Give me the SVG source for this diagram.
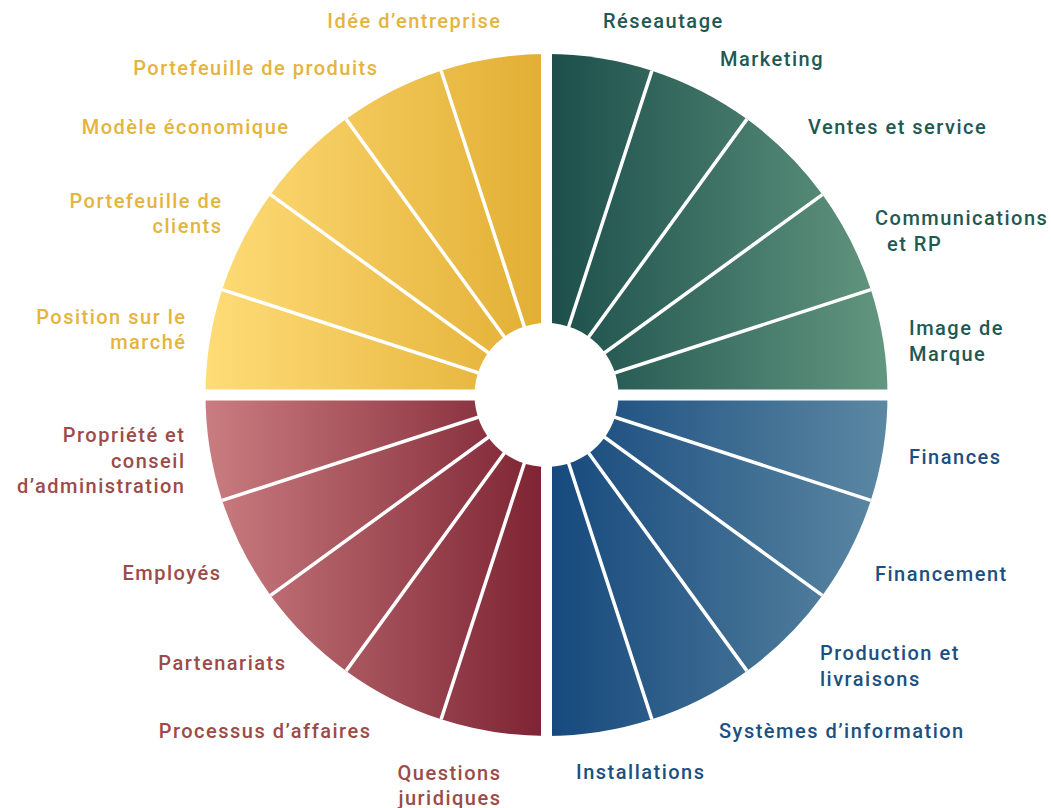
<svg xmlns="http://www.w3.org/2000/svg" width="1051" height="808" viewBox="0 0 1051 808">
<defs>
<linearGradient id="gY" gradientUnits="userSpaceOnUse" x1="205.5" y1="0" x2="541" y2="0"><stop offset="0" stop-color="#FFDC78"/><stop offset="1" stop-color="#E2AF34"/></linearGradient>
<linearGradient id="gG" gradientUnits="userSpaceOnUse" x1="552" y1="0" x2="887.5" y2="0"><stop offset="0" stop-color="#1C4F4B"/><stop offset="1" stop-color="#639780"/></linearGradient>
<linearGradient id="gB" gradientUnits="userSpaceOnUse" x1="552" y1="0" x2="887.5" y2="0"><stop offset="0" stop-color="#16497D"/><stop offset="1" stop-color="#5C88A3"/></linearGradient>
<linearGradient id="gR" gradientUnits="userSpaceOnUse" x1="205.5" y1="0" x2="541" y2="0"><stop offset="0" stop-color="#CA7D80"/><stop offset="1" stop-color="#7E2434"/></linearGradient>
<style>
text{font-family:Roboto,"Liberation Sans",sans-serif;font-size:20px;font-weight:500;letter-spacing:1.5px}
.y{fill:#E4B43E;text-anchor:end}
.r{fill:#9B4B49;text-anchor:end}
.g{fill:#1F5953}
.b{fill:#1D4F80}
.sep{stroke:#fff;stroke-width:3.5}
</style>
</defs>
<g id="quadrant-green" fill="url(#gG)">
<path id="w-reseautage" d="M546.5,395L546.5,54A341,341 0 0 1 651.88,70.69Z"/>
<path id="w-marketing" d="M546.5,395L651.88,70.69A341,341 0 0 1 746.94,119.12Z"/>
<path id="w-ventes" d="M546.5,395L746.94,119.12A341,341 0 0 1 822.38,194.56Z"/>
<path id="w-communications" d="M546.5,395L822.38,194.56A341,341 0 0 1 870.81,289.62Z"/>
<path id="w-image" d="M546.5,395L870.81,289.62A341,341 0 0 1 887.5,395Z"/>
</g>
<g id="quadrant-blue" fill="url(#gB)">
<path id="w-finances" d="M546.5,395L887.5,395A341,341 0 0 1 870.81,500.38Z"/>
<path id="w-financement" d="M546.5,395L870.81,500.38A341,341 0 0 1 822.38,595.44Z"/>
<path id="w-production" d="M546.5,395L822.38,595.44A341,341 0 0 1 746.94,670.88Z"/>
<path id="w-systemes" d="M546.5,395L746.94,670.88A341,341 0 0 1 651.88,719.31Z"/>
<path id="w-installations" d="M546.5,395L651.88,719.31A341,341 0 0 1 546.5,736Z"/>
</g>
<g id="quadrant-red" fill="url(#gR)">
<path id="w-questions" d="M546.5,395L546.5,736A341,341 0 0 1 441.12,719.31Z"/>
<path id="w-processus" d="M546.5,395L441.12,719.31A341,341 0 0 1 346.06,670.88Z"/>
<path id="w-partenariats" d="M546.5,395L346.06,670.88A341,341 0 0 1 270.62,595.44Z"/>
<path id="w-employes" d="M546.5,395L270.62,595.44A341,341 0 0 1 222.19,500.38Z"/>
<path id="w-propriete" d="M546.5,395L222.19,500.38A341,341 0 0 1 205.5,395Z"/>
</g>
<g id="quadrant-yellow" fill="url(#gY)">
<path id="w-position" d="M546.5,395L205.5,395A341,341 0 0 1 222.19,289.62Z"/>
<path id="w-clients" d="M546.5,395L222.19,289.62A341,341 0 0 1 270.62,194.56Z"/>
<path id="w-modele" d="M546.5,395L270.62,194.56A341,341 0 0 1 346.06,119.12Z"/>
<path id="w-produits" d="M546.5,395L346.06,119.12A341,341 0 0 1 441.12,70.69Z"/>
<path id="w-idee" d="M546.5,395L441.12,70.69A341,341 0 0 1 546.5,54Z"/>
</g>
<g id="separators" class="sep">
<path d="M546.5,395L651.88,70.69M546.5,395L746.94,119.12M546.5,395L822.38,194.56M546.5,395L870.81,289.62M546.5,395L870.81,500.38M546.5,395L822.38,595.44M546.5,395L746.94,670.88M546.5,395L651.88,719.31M546.5,395L441.12,719.31M546.5,395L346.06,670.88M546.5,395L270.62,595.44M546.5,395L222.19,500.38M546.5,395L222.19,289.62M546.5,395L270.62,194.56M546.5,395L346.06,119.12M546.5,395L441.12,70.69"/>
<rect x="541" y="40" width="11" height="710" fill="#fff" stroke="none"/>
<rect x="190" y="389.5" width="712" height="11" fill="#fff" stroke="none"/>
<circle cx="546.5" cy="395" r="72" fill="#fff" stroke="none"/>
</g>
<g id="labels-yellow">
<text class="y" x="501.5" y="28">Idée d’entreprise</text>
<text class="y" x="378.5" y="75">Portefeuille de produits</text>
<text class="y" x="289.5" y="134">Modèle économique</text>
<text class="y" x="222.5" y="208">Portefeuille de</text>
<text class="y" x="222.5" y="233">clients</text>
<text class="y" x="186.5" y="324">Position sur le</text>
<text class="y" x="186.5" y="349">marché</text>
</g>
<g id="labels-green">
<text class="g" x="603" y="28">Réseautage</text>
<text class="g" x="720" y="66">Marketing</text>
<text class="g" x="808" y="134">Ventes et service</text>
<text class="g" x="875" y="225">Communications</text>
<text class="g" x="887" y="251">et RP</text>
<text class="g" x="909" y="335">Image de</text>
<text class="g" x="909" y="361">Marque</text>
</g>
<g id="labels-blue">
<text class="b" x="909" y="464">Finances</text>
<text class="b" x="875" y="581">Financement</text>
<text class="b" x="820" y="660">Production et</text>
<text class="b" x="820" y="686">livraisons</text>
<text class="b" x="719" y="738">Systèmes d’information</text>
<text class="b" x="576" y="779">Installations</text>
</g>
<g id="labels-red">
<text class="r" x="185.5" y="442">Propriété et</text>
<text class="r" x="185.5" y="468">conseil</text>
<text class="r" x="185.5" y="493">d’administration</text>
<text class="r" x="221.5" y="580">Employés</text>
<text class="r" x="286.5" y="670">Partenariats</text>
<text class="r" x="371.5" y="738">Processus d’affaires</text>
<text class="r" x="501.5" y="780">Questions</text>
<text class="r" x="501.5" y="805">juridiques</text>
</g>
</svg>
